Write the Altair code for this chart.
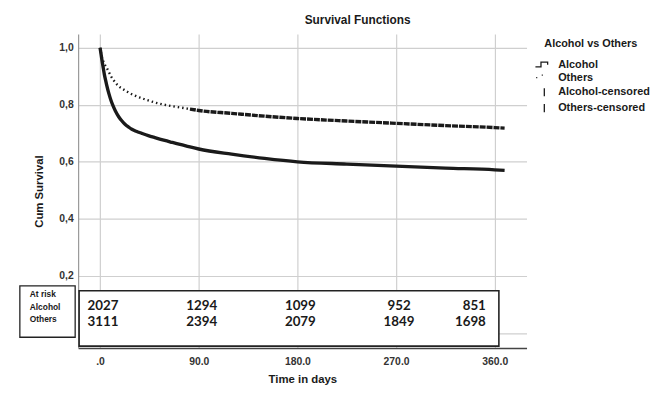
import altair as alt
import pandas as pd

# ---- data ----
alc_days = [0, 1, 2, 3, 4, 5, 6, 8, 10, 12, 14, 17, 20, 23, 26, 29, 33, 38, 44, 50, 59, 66, 74, 82, 90,
            120, 150, 180, 225, 270, 315, 360, 369]
alc_surv = [1.0, 0.975, 0.95, 0.927, 0.905, 0.887, 0.87, 0.84, 0.815, 0.795, 0.778, 0.758, 0.743, 0.731,
            0.722, 0.714, 0.707, 0.70, 0.692, 0.685, 0.675, 0.668, 0.66, 0.652, 0.645,
            0.627, 0.612, 0.60, 0.592, 0.585, 0.578, 0.572, 0.57]
oth_days = [0, 1, 2, 3, 4, 6, 8, 10, 12, 14, 17, 20, 23, 26, 29, 33, 38, 44, 50, 59, 66, 74, 82, 90,
            120, 150, 180, 225, 270, 315, 360, 369]
oth_surv = [1.0, 0.98, 0.962, 0.952, 0.943, 0.93, 0.915, 0.90, 0.888, 0.878, 0.865, 0.857, 0.85, 0.843,
            0.837, 0.83, 0.823, 0.815, 0.808, 0.80, 0.795, 0.79, 0.785, 0.78,
            0.77, 0.76, 0.752, 0.743, 0.735, 0.727, 0.72, 0.718]

risk_days = [0, 90, 180, 270, 360]
risk_alcohol = [2027, 1294, 1099, 952, 851]
risk_others = [3111, 2394, 2079, 1849, 1698]

legend_keys = ["Alcohol", "Others", "Alcohol-censored", "Others-censored"]
legend_paths = [
    "M-1.2,0.3L-0.45,0.3L-0.45,-0.35L0.45,-0.35L0.45,0",
    "M-1.1,-0.1L-0.95,-0.1M-0.35,-0.45L-0.2,-0.45",
    "M0,-0.55L0,0.55",
    "M0,-0.55L0,0.55",
]

FONT = "Liberation Sans"
INK = "#1a1a1a"

curves = pd.DataFrame({
    "day": alc_days + oth_days,
    "surv": alc_surv + oth_surv,
    "group": ["Alcohol"] * len(alc_days) + ["Others"] * len(oth_days),
})
risk = pd.DataFrame({"day": risk_days, "alc": risk_alcohol, "oth": risk_others})
legend_df = pd.DataFrame({"day": [-100] * 4, "surv": [0.5] * 4, "key": legend_keys})
one = pd.DataFrame({"k": [0]})

x_enc = alt.X(
    "day:Q",
    scale=alt.Scale(domain=[-20, 389], nice=False, zero=False),
    axis=alt.Axis(
        values=risk_days,
        labelExpr="datum.value == 0 ? '.0' : format(datum.value, '.1f')",
        title="Time in days",
        grid=True, gridColor="#cfcfcf", gridWidth=1.2,
        ticks=False, domainColor="#444", domainWidth=1.5,
        labelFont=FONT, labelFontSize=10.5, labelFontWeight="bold", labelColor="#333",
        labelPadding=9,
        titleFont=FONT, titleFontSize=11.5, titleFontWeight="bold", titleColor=INK,
        titleX=227, titleY=32, titleBaseline="middle",
    ),
)
y_enc = alt.Y(
    "surv:Q",
    scale=alt.Scale(domain=[-0.053, 1.048], nice=False, zero=False),
    axis=alt.Axis(
        values=[0, 0.2, 0.4, 0.6, 0.8, 1.0],
        labelExpr="datum.value == 0 ? '' : replace(format(datum.value, '.1f'), '.', ',')",
        title="Cum Survival",
        grid=True, gridColor="#cfcfcf", gridWidth=1.2,
        ticks=False, domainColor="#999", domainWidth=1.2,
        labelFont=FONT, labelFontSize=10.5, labelFontWeight="bold", labelColor="#333",
        labelPadding=5,
        titleFont=FONT, titleFontSize=11.5, titleFontWeight="bold", titleColor=INK,
        titleX=-39, titleY=159, titleBaseline="middle", titleAlign="center",
    ),
)

base = alt.Chart(curves)

alc_line = base.transform_filter("datum.group == 'Alcohol'").mark_line(
    color=INK, strokeWidth=3.4, interpolate="monotone"
).encode(x=x_enc, y=y_enc)

oth_early = base.transform_filter("datum.group == 'Others' && datum.day <= 82").mark_line(
    color=INK, strokeWidth=2.4, strokeDash=[1.5, 3], interpolate="monotone"
).encode(x=x_enc, y=y_enc)

oth_late = base.transform_filter("datum.group == 'Others' && datum.day >= 82").mark_line(
    color=INK, strokeWidth=3.4, strokeDash=[6, 1], interpolate="monotone"
).encode(x=x_enc, y=y_enc)

# at-risk table boxes
table_box = alt.Chart(one).mark_rect(fill="white", stroke="#222", strokeWidth=1.6).encode(
    x=alt.value(1), x2=alt.value(426), y=alt.value(260), y2=alt.value(316)
)
label_box = alt.Chart(one).mark_rect(fill="white", stroke="#222", strokeWidth=1.3).encode(
    x=alt.value(-59), x2=alt.value(-3), y=alt.value(255), y2=alt.value(307)
)
label_text = alt.Chart(one).mark_text(
    align="left", baseline="top", font=FONT, fontSize=8.5, fontWeight="bold",
    color=INK, lineBreak="\n", lineHeight=13
).encode(x=alt.value(-49), y=alt.value(259), text=alt.value("At risk\nAlcohol\nOthers"))

num_style = dict(baseline="middle", font="Lato", fontSize=13.5, fontWeight="bold", color=INK)
rbase = alt.Chart(risk)
alc_mid = rbase.transform_filter("datum.day < 360").mark_text(align="center", dx=3, **num_style).encode(
    x=x_enc, y=alt.value(275), text="alc:Q")
oth_mid = rbase.transform_filter("datum.day < 360").mark_text(align="center", dx=3, **num_style).encode(
    x=x_enc, y=alt.value(292), text="oth:Q")
alc_end = rbase.transform_filter("datum.day == 360").mark_text(align="right", dx=-9, **num_style).encode(
    x=x_enc, y=alt.value(275), text="alc:Q")
oth_end = rbase.transform_filter("datum.day == 360").mark_text(align="right", dx=-9, **num_style).encode(
    x=x_enc, y=alt.value(292), text="oth:Q")

# legend
legend_layer = alt.Chart(legend_df).mark_point(
    filled=False, color=INK, strokeWidth=1.3, size=225, clip=True, opacity=1
).encode(
    x=x_enc, y=y_enc,
    shape=alt.Shape(
        "key:N",
        scale=alt.Scale(domain=legend_keys, range=legend_paths),
        legend=alt.Legend(
            title=None, orient="none", legendX=463.5, legendY=22.5,
            padding=0, rowPadding=0, symbolSize=225, symbolStrokeWidth=1.3,
            symbolStrokeColor=INK, symbolFillColor="transparent",
            labelFont=FONT, labelFontSize=11, labelFontWeight="bold", labelColor=INK,
            labelOffset=5.5, labelLimit=200,
        ),
    ),
)
legend_title = alt.Chart(one).mark_text(
    align="left", baseline="middle", font=FONT, fontSize=11, fontWeight="bold", color=INK
).encode(x=alt.value(472), y=alt.value(10), text=alt.value("Alcohol vs Others"))

chart = alt.layer(
    alc_line, oth_early, oth_late,
    table_box, label_box, label_text,
    alc_mid, oth_mid, alc_end, oth_end,
    legend_layer, legend_title,
).properties(
    width=454, height=318,
    autosize=alt.AutoSizeParams(type="none"),
    padding={"left": 71, "top": 24, "right": 125, "bottom": 35},
    title=alt.TitleParams(
        "Survival Functions", anchor="middle", dx=56, offset=7,
        font=FONT, fontSize=12, fontWeight="bold", color=INK,
    ),
    background="white",
).configure_view(stroke=None)

chart.save("out.html", embed_options={"renderer": "svg", "actions": False})
